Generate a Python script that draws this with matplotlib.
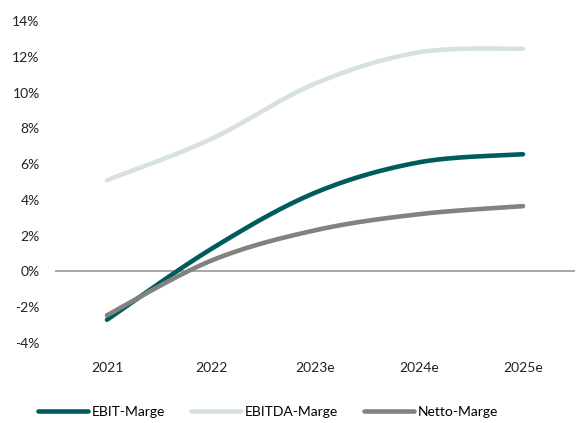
import numpy as np
import matplotlib.pyplot as plt

# Daten
jahre = ["2021", "2022", "2023e", "2024e", "2025e"]
ebit = [-2.7, 1.25, 4.4, 6.1, 6.55]
ebitda = [5.1, 7.4, 10.5, 12.25, 12.45]
netto = [-2.45, 0.6, 2.3, 3.2, 3.65]

plt.rcParams['font.family'] = ['Lato', 'DejaVu Sans']


def glatt(y, n=40, t=1/6):
    """Excel-artige Glaettung (Bezier ueber Catmull-Rom)"""
    y = np.asarray(y, float)
    x = np.arange(len(y), dtype=float)
    px, py = [x[0]], [y[0]]
    for i in range(len(y) - 1):
        i0 = max(i - 1, 0)
        i3 = min(i + 2, len(y) - 1)
        p0 = np.array([x[i], y[i]])
        p3 = np.array([x[i + 1], y[i + 1]])
        p1 = p0 + t * (p3 - np.array([x[i0], y[i0]]))
        p2 = p3 - t * (np.array([x[i3], y[i3]]) - p0)
        s = np.linspace(0, 1, n)[1:, None]
        b = ((1 - s) ** 3) * p0 + 3 * ((1 - s) ** 2) * s * p1 + 3 * (1 - s) * s ** 2 * p2 + s ** 3 * p3
        px.extend(b[:, 0])
        py.extend(b[:, 1])
    return np.array(px), np.array(py)


fig = plt.figure(figsize=(5.77, 4.23), dpi=100)
ax = fig.add_axes([55 / 577, 1 - 343 / 423, 520 / 577, 322 / 423])

ax.axhline(0, color='#a0a0a0', lw=1.3, zorder=1)

for werte, farbe, name in [(ebit, '#005c5c', 'EBIT-Marge'),
                           (ebitda, '#d7e1e1', 'EBITDA-Marge'),
                           (netto, '#828282', 'Netto-Marge')]:
    gx, gy = glatt(werte)
    ax.plot(gx, gy, color=farbe, lw=3.3, solid_capstyle='round', label=name, zorder=3)

ax.set_xlim(-0.5, 4.5)
ax.set_ylim(-4, 14)
ax.set_yticks(range(-4, 15, 2))
ax.set_yticklabels([f"{v}%" for v in range(-4, 15, 2)])
ax.set_xticks(range(len(jahre)))
ax.set_xticklabels(jahre)
ax.tick_params(length=0, labelsize=10, colors='#222222')
ax.tick_params(axis='x', pad=14)
ax.tick_params(axis='y', pad=11)
for sp in ax.spines.values():
    sp.set_visible(False)

ax.legend(loc='center', bbox_to_anchor=(0.41, -0.215), ncol=3, frameon=False,
          fontsize=10, handlelength=3.6, handletextpad=0.25, columnspacing=1.9)

fig.savefig('out.png', dpi=100)
